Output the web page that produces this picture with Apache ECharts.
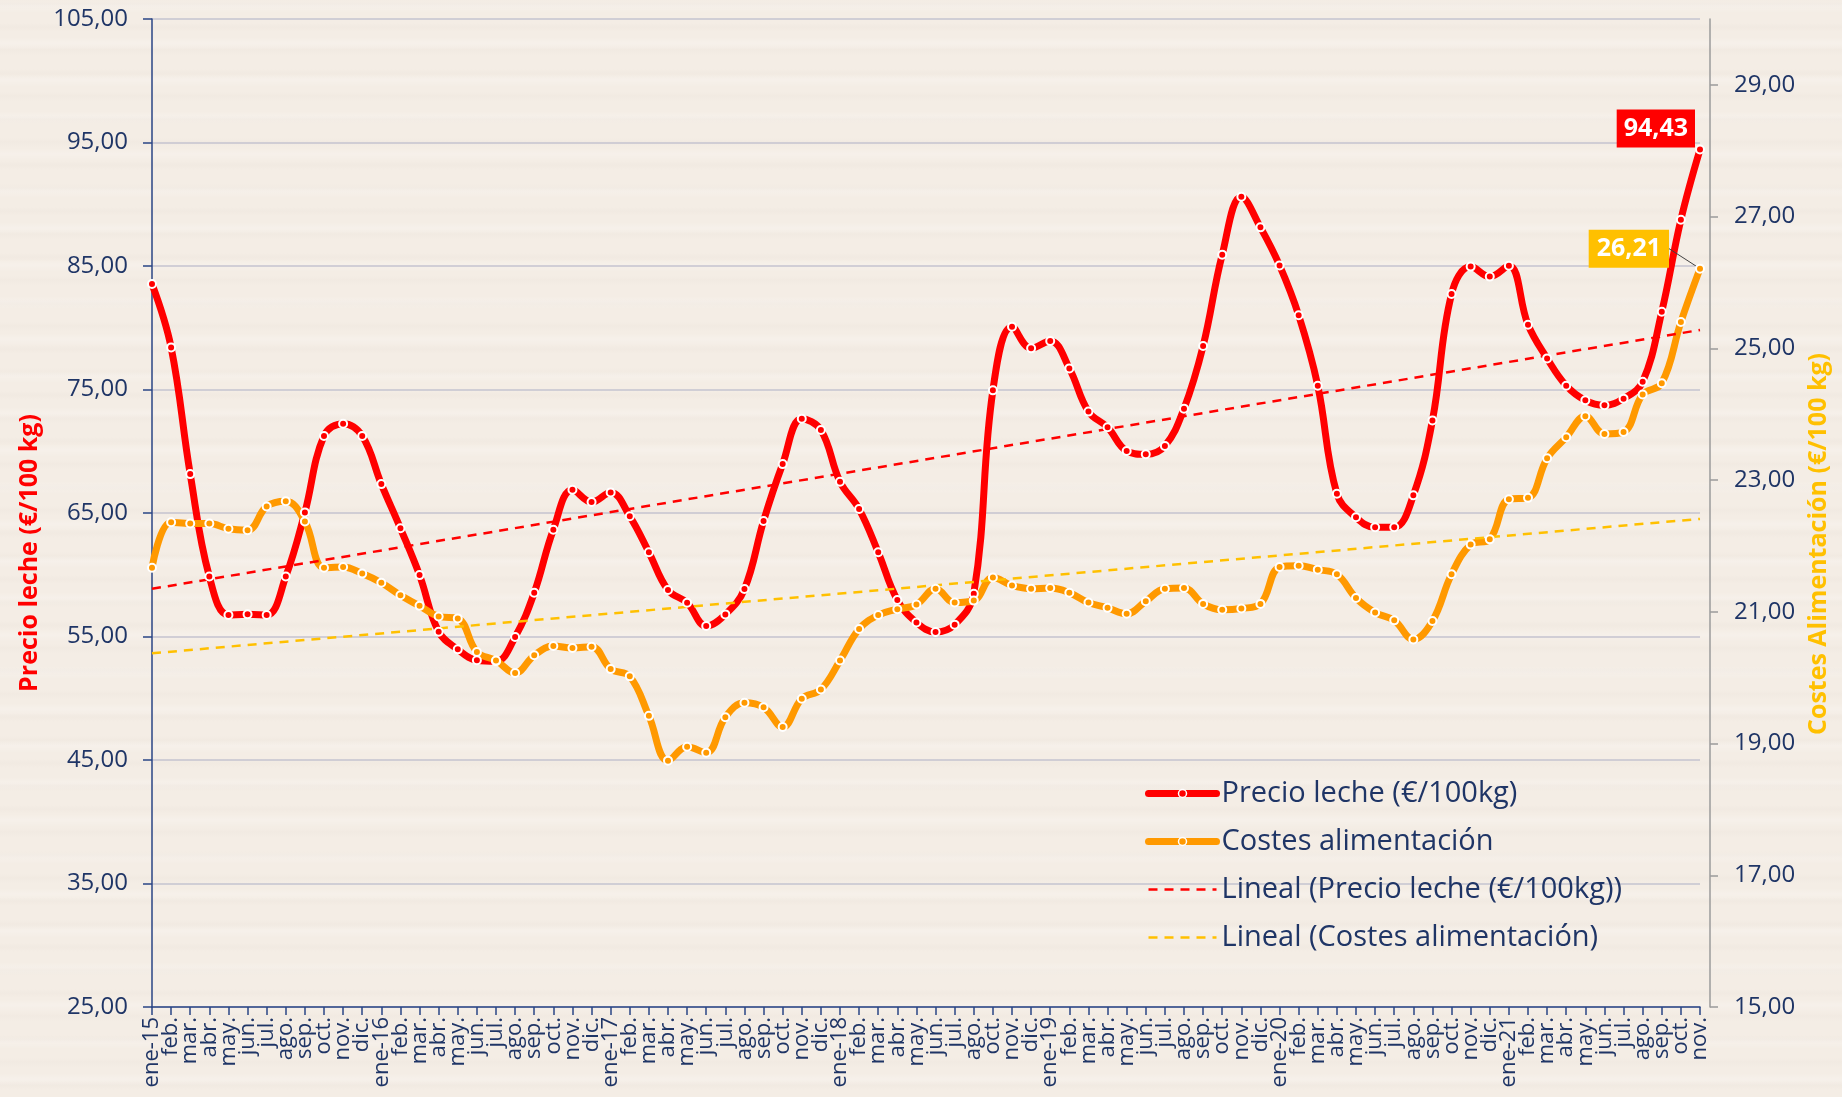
<!DOCTYPE html>
<html>
<head>
<meta charset="utf-8">
<script src="https://cdn.jsdelivr.net/npm/echarts@6.0.0/dist/echarts.min.js"></script>
<style>
html, body { margin: 0; padding: 0; }
body {
  width: 1842px; height: 1097px; overflow: hidden;
  background-color: #f4ede5;
  background-image:
    repeating-linear-gradient(180deg, rgba(205,195,185,0.00) 0px, rgba(205,195,185,0.07) 4px, rgba(205,195,185,0.00) 9px, rgba(205,195,185,0.00) 23px),
    repeating-linear-gradient(180deg, rgba(255,255,255,0.00) 0px, rgba(255,255,255,0.20) 6px, rgba(255,255,255,0.00) 13px, rgba(255,255,255,0.00) 37px);
}
#grafico { width: 1842px; height: 1097px; }
</style>
</head>
<body>
<div id="grafico"></div>
<script>
// meses (falta sep. de 2018 en el original)
const meses = [
  'ene-15','feb.','mar.','abr.','may.','jun.','jul.','ago.','sep.','oct.','nov.','dic.',
  'ene-16','feb.','mar.','abr.','may.','jun.','jul.','ago.','sep.','oct.','nov.','dic.',
  'ene-17','feb.','mar.','abr.','may.','jun.','jul.','ago.','sep.','oct.','nov.','dic.',
  'ene-18','feb.','mar.','abr.','may.','jun.','jul.','ago.','oct.','nov.','dic.',
  'ene-19','feb.','mar.','abr.','may.','jun.','jul.','ago.','sep.','oct.','nov.','dic.',
  'ene-20','feb.','mar.','abr.','may.','jun.','jul.','ago.','sep.','oct.','nov.','dic.',
  'ene-21','feb.','mar.','abr.','may.','jun.','jul.','ago.','sep.','oct.','nov.'
];

// Precio leche (€/100kg)
const precioLeche = [
  83.54, 78.41, 68.15, 59.86, 56.74, 56.80, 56.74, 59.86, 65.05, 71.24, 72.23, 71.24,
  67.34, 63.76, 59.97, 55.39, 53.96, 53.08, 53.00, 54.96, 58.54, 63.65, 66.88, 65.89,
  66.67, 64.73, 61.82, 58.76, 57.73, 55.85, 56.79, 58.84, 64.35, 68.96, 72.64, 71.72,
  67.53, 65.32, 61.82, 57.95, 56.14, 55.36, 55.96, 58.46, 74.93, 80.09, 78.33,
  78.93, 76.71, 73.21, 71.94, 70.02, 69.75, 70.43, 73.45, 78.52, 85.92, 90.61, 88.13,
  85.05, 81.01, 75.31, 66.56, 64.65, 63.84, 63.84, 66.43, 72.50, 82.73, 84.95, 84.14,
  85.03, 80.25, 77.52, 75.31, 74.12, 73.72, 74.26, 75.63, 81.30, 88.75, 94.43
];

// Costes alimentación (€/100 kg)
const costesAlim = [
  21.67, 22.36, 22.34, 22.34, 22.26, 22.24, 22.60, 22.68, 22.37, 21.67, 21.68, 21.58,
  21.44, 21.25, 21.09, 20.93, 20.90, 20.39, 20.26, 20.07, 20.34, 20.48, 20.45, 20.47,
  20.13, 20.02, 19.42, 18.74, 18.95, 18.86, 19.40, 19.62, 19.55, 19.25, 19.68, 19.82,
  20.26, 20.74, 20.95, 21.04, 21.11, 21.35, 21.14, 21.17, 21.52, 21.40, 21.35,
  21.36, 21.29, 21.14, 21.06, 20.97, 21.16, 21.35, 21.36, 21.12, 21.03, 21.05, 21.12,
  21.68, 21.70, 21.64, 21.57, 21.21, 20.99, 20.87, 20.58, 20.86, 21.57, 22.02, 22.10,
  22.71, 22.73, 23.33, 23.65, 23.97, 23.70, 23.73, 24.30, 24.47, 25.40, 26.21
];

// líneas de tendencia (inicio y fin)
const tendPrecio = [58.86, 79.82];
const tendCostes = [20.37, 22.41];

const ticksIzq = [25, 35, 45, 55, 65, 75, 85, 95, 105];
const ticksDer = [15, 17, 19, 21, 23, 25, 27, 29];

const azul = '#1f3566';
const fuente = 'Open Sans';
const fmt = v => Number(v).toFixed(2).replace('.', ',');
const ultimo = meses.length - 1;

const myChart = echarts.init(document.getElementById('grafico'));

const option = {
  backgroundColor: 'transparent',
  textStyle: { fontFamily: fuente },
  grid: { left: 152, right: 142, top: 19, bottom: 90 },
  legend: {
    orient: 'vertical',
    left: 1140,
    top: 773,
    itemWidth: 68,
    itemHeight: 10,
    itemGap: 17,
    textStyle: { fontSize: 29, color: azul, fontFamily: fuente, lineHeight: 31 },
    data: [
      { name: 'Precio leche (€/100kg)', lineStyle: { width: 7, cap: 'round' },
        itemStyle: { borderColor: '#ffffff', borderWidth: 1.5 } },
      { name: 'Costes alimentación', lineStyle: { width: 7, cap: 'round' },
        itemStyle: { borderColor: '#ffffff', borderWidth: 1.5 } },
      { name: 'Lineal (Precio leche (€/100kg))', lineStyle: { width: 2.5, type: [9, 7] },
        itemStyle: { opacity: 0 } },
      { name: 'Lineal (Costes alimentación)', lineStyle: { width: 2.5, type: [9, 7] },
        itemStyle: { opacity: 0 } }
    ]
  },
  xAxis: {
    type: 'category',
    data: meses,
    boundaryGap: false,
    axisLine: { lineStyle: { color: '#2a4585', width: 1.5 } },
    axisTick: { show: true, interval: 0, length: 8, lineStyle: { color: '#2a4585', width: 1.5 } },
    axisLabel: { interval: 0, rotate: 90, margin: 10, fontSize: 22, color: azul, fontFamily: fuente },
    splitLine: { show: false }
  },
  yAxis: [
    {
      type: 'value',
      min: 25, max: 105, interval: 10,
      name: 'Precio leche (€/100 kg)',
      nameLocation: 'middle',
      nameRotate: 90,
      nameGap: 106,
      nameTextStyle: { color: '#ff0000', fontWeight: 'bold', fontSize: 25, fontFamily: fuente, padding: [0, 80, 0, 0] },
      axisLine: { show: true, lineStyle: { color: '#2a4585', width: 1.5 } },
      axisTick: { show: true, length: 9, customValues: ticksIzq, lineStyle: { color: '#2a4585', width: 1.5 } },
      axisLabel: { margin: 24, fontSize: 24, color: azul, fontFamily: fuente, customValues: ticksIzq, formatter: fmt },
      splitLine: { show: true, lineStyle: { color: '#c4c3cf', width: 1.5 } }
    },
    {
      type: 'value',
      position: 'right',
      offset: 10,
      min: 15, max: 30, interval: 2,
      name: 'Costes Alimentación (€/100 kg)',
      nameLocation: 'middle',
      nameRotate: 90,
      nameGap: 94,
      nameTextStyle: { color: '#ffc000', fontWeight: 'bold', fontSize: 25, fontFamily: fuente, padding: [0, 62, 0, 0] },
      axisLine: { show: true, lineStyle: { color: '#9b9b9b', width: 1.5 } },
      axisTick: { show: true, length: 8, customValues: ticksDer, lineStyle: { color: '#9b9b9b', width: 1.5 } },
      axisLabel: { margin: 24, fontSize: 24, color: azul, fontFamily: fuente, customValues: ticksDer, formatter: fmt },
      splitLine: { show: false }
    }
  ],
  series: [
    {
      name: 'Precio leche (€/100kg)',
      type: 'line',
      yAxisIndex: 0,
      smooth: 0.4,
      symbol: 'circle',
      symbolSize: 8,
      itemStyle: { color: '#ff0000', borderColor: '#ffffff', borderWidth: 2 },
      lineStyle: { color: '#ff0000', width: 7 },
      data: precioLeche.map((v, i) => i === ultimo ? {
        value: v,
        label: {
          show: true, position: 'left', distance: 0, offset: [0, -21],
          formatter: p => fmt(p.value),
          backgroundColor: '#ff0000', color: '#ffffff', fontWeight: 'bold',
          fontSize: 25, fontFamily: fuente, padding: [7, 7, 6, 7]
        }
      } : v)
    },
    {
      name: 'Costes alimentación',
      type: 'line',
      yAxisIndex: 1,
      smooth: 0.4,
      symbol: 'circle',
      symbolSize: 8,
      itemStyle: { color: '#ff9900', borderColor: '#ffffff', borderWidth: 2 },
      lineStyle: { color: '#ff9900', width: 7 },
      labelLayout: { dx: -21, dy: -20 },
      labelLine: { show: true, lineStyle: { color: '#404040', width: 1 } },
      data: costesAlim.map((v, i) => i === ultimo ? {
        value: v,
        label: {
          show: true, position: 'left', distance: 5,
          formatter: p => fmt(p.value),
          backgroundColor: '#ffc000', color: '#ffffff', fontWeight: 'bold',
          fontSize: 25, fontFamily: fuente, padding: [7, 8, 6, 8]
        }
      } : v)
    },
    {
      name: 'Lineal (Precio leche (€/100kg))',
      type: 'line',
      yAxisIndex: 0,
      symbol: 'none',
      silent: true,
      lineStyle: { color: '#ff0000', width: 2.5, type: [9, 7] },
      itemStyle: { color: '#ff0000' },
      data: [[0, tendPrecio[0]], [ultimo, tendPrecio[1]]]
    },
    {
      name: 'Lineal (Costes alimentación)',
      type: 'line',
      yAxisIndex: 1,
      symbol: 'none',
      silent: true,
      lineStyle: { color: '#ffc000', width: 2.5, type: [9, 7] },
      itemStyle: { color: '#ffc000' },
      data: [[0, tendCostes[0]], [ultimo, tendCostes[1]]]
    }
  ]
};

myChart.setOption(option);
</script>
</body>
</html>
